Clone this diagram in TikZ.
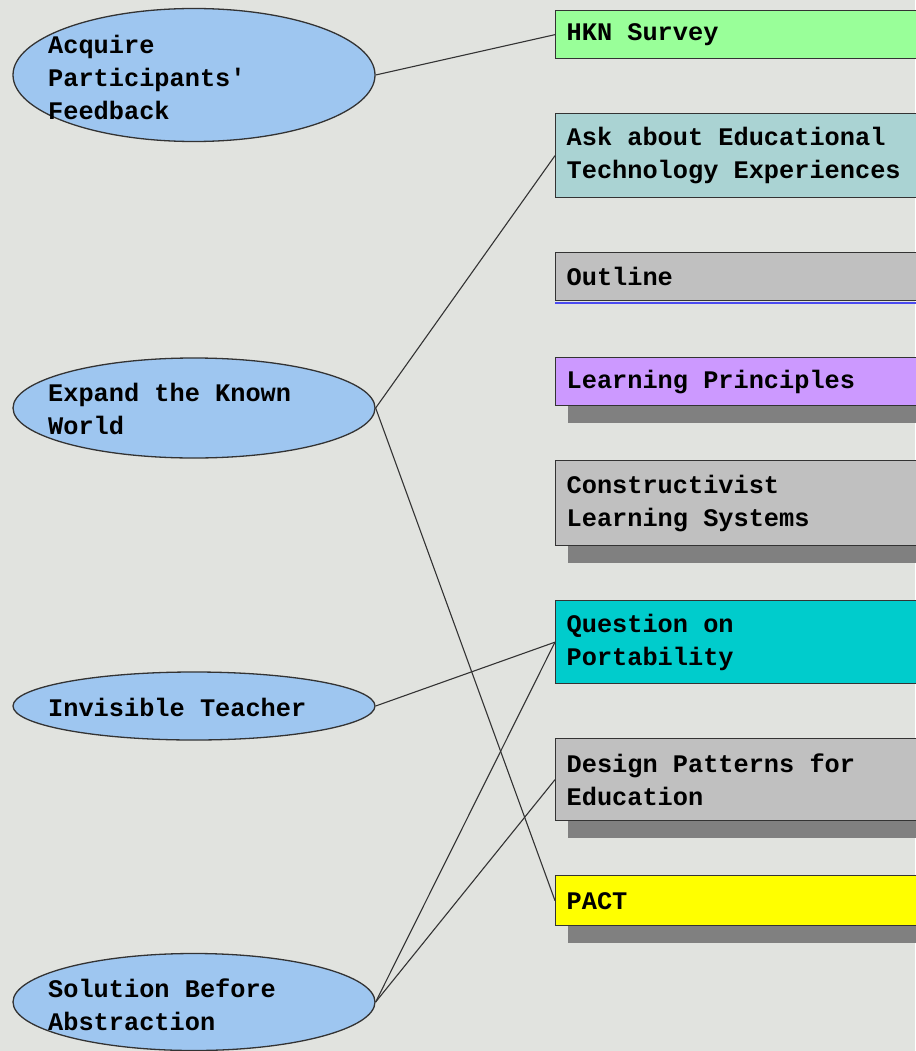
\documentclass[tikz,border=0pt]{standalone}
\usepackage{fontspec}
\setmonofont{Liberation Mono}
\usetikzlibrary{shapes.geometric,shadows}
\newcommand\diagfont{\ttfamily\bfseries\fontsize{25.3}{33}\selectfont}
\newcommand\monospaces{\spaceskip=15.18pt\relax\xspaceskip=15.18pt\relax}
\definecolor{bg}{HTML}{E1E3DF}
\definecolor{edge}{HTML}{333333}
\definecolor{ovalfill}{HTML}{9EC6F0}
\definecolor{green}{HTML}{99FF99}
\definecolor{paleteal}{HTML}{AAD3D3}
\definecolor{lgray}{HTML}{C0C0C0}
\definecolor{purple}{HTML}{CC99FF}
\definecolor{teal}{HTML}{00CCCC}
\definecolor{yell}{HTML}{FFFF00}
\definecolor{shadowgray}{HTML}{808080}
\definecolor{blueline}{HTML}{4A4AF0}
\begin{document}
\begin{tikzpicture}[x=1pt,y=-1pt,
  ovaltext/.style={font=\diagfont, align=left, inner sep=0pt, anchor=west},
  oval/.style={ellipse, draw=edge, line width=1.3pt, fill=ovalfill, minimum width=362pt, inner sep=0pt},
  box/.style={rectangle, draw=edge, line width=1.3pt, anchor=north west, inner xsep=11pt, inner ysep=0pt, text width=358pt, align=left, font=\diagfont, execute at begin node=\monospaces},
  shadowed/.style={drop shadow={shadow xshift=12pt, shadow yshift=-17pt, fill=shadowgray, opacity=1}},
  link/.style={draw=edge, line width=1.1pt}]
\useasboundingbox[fill=bg] (0,0) rectangle (915,1051);

% ovals
\node[oval, minimum height=133pt] (e1) at (194,75) {};
\node[ovaltext] (t1) at (48,77) {Acquire\\Participants'\\Feedback};
\node[oval, minimum height=100pt] (e2) at (194,408) {};
\node[ovaltext] (t2) at (48,409) {Expand the Known\\World};
\node[oval, minimum height=68pt] (e3) at (194,706) {};
\node[ovaltext] (t3) at (48,707) {Invisible Teacher};
\node[oval, minimum height=97pt] (e4) at (194,1002) {};
\node[ovaltext] (t4) at (48,1005) {Solution Before\\Abstraction};

% boxes
\node[box, fill=green, minimum height=48pt] (b1) at (555,10) {HKN Survey};
\node[box, fill=paleteal, minimum height=84pt] (b2) at (555,113) {Ask about Educational\\Technology Experiences};
\node[box, fill=lgray, minimum height=48pt] (b3) at (555,252) {Outline};
\draw[blueline, line width=1.5pt] ([yshift=-1.5pt]b3.south west) -- ([yshift=-1.5pt]b3.south east);
\node[box, shadowed, fill=purple, minimum height=48pt] (b4) at (555,357) {Learning Principles};
\node[box, shadowed, fill=lgray, minimum height=85pt] (b5) at (555,460) {Constructivist\\Learning Systems};
\node[box, fill=teal, minimum height=83pt] (b6) at (555,600) {Question on\\Portability};
\node[box, shadowed, fill=lgray, minimum height=82pt] (b7) at (555,738) {Design Patterns for\\Education};
\node[box, shadowed, fill=yell, minimum height=50pt] (b8) at (555,875) {PACT};

% connectors
\draw[link] (e1.east) -- (b1.west);
\draw[link] (e2.east) -- (b2.west);
\draw[link] (e2.east) -- (b8.west);
\draw[link] (e3.east) -- (b6.west);
\draw[link] (e4.east) -- (b6.west);
\draw[link] (e4.east) -- (b7.west);
\end{tikzpicture}
\end{document}
